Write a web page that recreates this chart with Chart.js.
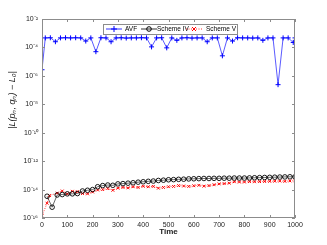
<!DOCTYPE html>
<html>
<head>
<meta charset="utf-8">
<script src="https://cdn.jsdelivr.net/npm/chart.js@4.4.1/dist/chart.umd.min.js"></script>
<style>
  html, body { margin: 0; padding: 0; background: #fff; }
  canvas { display: block; }
</style>
</head>
<body>
<canvas id="chart" width="327" height="245"></canvas>
<script>
// data (y values as log10)
const avfTime = [0, 13, 33, 53, 73, 93, 113, 133, 153, 173, 193, 213, 233, 253, 273, 293, 313, 333, 353, 373,
    393, 413, 433, 453, 473, 493, 513, 533, 553, 573, 593, 613, 633, 653, 673, 693, 713, 733, 753, 773,
    793, 813, 833, 853, 873, 893, 913, 933, 953, 973, 993, 1000];
const avfLog = [-5.57, -3.33, -3.32, -3.6, -3.33, -3.32, -3.33, -3.32, -3.33, -3.55, -3.33, -4.3, -3.32, -3.33, -3.6, -3.33, -3.32, -3.34, -3.33, -3.33,
    -3.32, -3.33, -3.96, -3.33, -3.32, -4.03, -3.33, -3.5, -3.33, -3.32, -3.34, -3.33, -3.33, -3.6, -3.33, -3.33, -4.59, -3.33, -3.55, -3.32,
    -3.33, -3.33, -3.34, -3.33, -3.5, -3.33, -3.33, -6.62, -3.33, -3.33, -3.65, -3.33];

const schemeTime = [20, 40, 60, 80, 100, 120, 140, 160, 180, 200, 220, 240, 260, 280, 300, 320, 340, 360, 380, 400,
    420, 440, 460, 480, 500, 520, 540, 560, 580, 600, 620, 640, 660, 680, 700, 720, 740, 760, 780, 800,
    820, 840, 860, 880, 900, 920, 940, 960, 980, 1000];
const scheme4Log = [-14.47, -15.24, -14.38, -14.35, -14.3, -14.3, -14.28, -14.1, -14.05, -14.0, -13.8, -13.72, -13.68, -13.7, -13.6, -13.58, -13.55, -13.52, -13.48, -13.45,
    -13.42, -13.4, -13.36, -13.34, -13.31, -13.3, -13.28, -13.27, -13.25, -13.24, -13.23, -13.22, -13.22, -13.21, -13.21, -13.2, -13.2, -13.19, -13.19, -13.19,
    -13.18, -13.17, -13.16, -13.15, -13.14, -13.13, -13.12, -13.11, -13.1, -13.1];

const scheme5Time = [0, 20, 30, 60, 80, 100, 120, 140, 160, 180, 200, 220, 240, 260, 280, 300, 320, 340, 360, 380, 400,
    420, 440, 460, 480, 500, 520, 540, 560, 580, 600, 620, 640, 660, 680, 700, 720, 740, 760, 780, 800,
    820, 840, 860, 880, 900, 920, 940, 960, 980, 1000];
const scheme5Log = [-15.85, -14.96, -14.42, -14.25, -14.1, -14.3, -14.12, -14.15, -14.28, -14.3, -14.17, -14.03, -14.0, -13.93, -14.05, -13.9, -13.85, -13.88, -13.8, -13.85, -13.77,
    -13.8, -13.78, -13.9, -13.85, -13.8, -13.78, -13.72, -13.75, -13.78, -13.73, -13.7, -13.76, -13.72, -13.66, -13.6, -13.58, -13.55, -13.45, -13.47, -13.47,
    -13.44, -13.45, -13.44, -13.43, -13.42, -13.41, -13.4, -13.42, -13.39, -13.38];

const yTicks = [-16, -14, -12, -10, -8, -6, -4, -2];
const seriesNames = ["AVF", "Scheme IV", "Scheme V"];

const toPoints = (xs, logs) => xs.map((t, i) => ({ x: t, y: Math.pow(10, logs[i]) }));
const sup = { "-": "\u207B", "0": "\u2070", "1": "\u00B9", "2": "\u00B2", "3": "\u00B3", "4": "\u2074",
    "5": "\u2075", "6": "\u2076", "7": "\u2077", "8": "\u2078", "9": "\u2079" };
const superscript = (n) => String(n).split("").map(c => sup[c]).join("");

const FONT = "'Liberation Sans', Arial, sans-serif";

// frame, inward ticks, y label and a MATLAB style legend
const framePlugin = {
    id: "frame",
    afterDraw(chart) {
        const { ctx, chartArea: a, scales } = chart;
        ctx.save();
        ctx.strokeStyle = "#8c8c8c";
        ctx.lineWidth = 1;
        ctx.strokeRect(a.left + 0.5, a.top + 0.5, a.right - a.left - 1, a.bottom - a.top - 1);
        ctx.beginPath();
        for (let v = 0; v <= 1000; v += 100) {
            const px = Math.round(scales.x.getPixelForValue(v)) + 0.5;
            ctx.moveTo(px, a.bottom); ctx.lineTo(px, a.bottom - 3);
            ctx.moveTo(px, a.top); ctx.lineTo(px, a.top + 3);
        }
        yTicks.forEach(e => {
            const py = Math.round(scales.y.getPixelForValue(Math.pow(10, e))) + 0.5;
            ctx.moveTo(a.left, py); ctx.lineTo(a.left + 3, py);
            ctx.moveTo(a.right, py); ctx.lineTo(a.right - 3, py);
        });
        ctx.stroke();

        // y axis label
        ctx.fillStyle = "#222";
        ctx.font = "italic 9px " + FONT;
        ctx.translate(12, 100);
        ctx.rotate(-Math.PI / 2);
        ctx.textAlign = "center";
        ctx.textBaseline = "middle";
        ctx.fillText("|L(p\u2099, q\u2099) \u2212 L\u2080|", 0, 0);
        ctx.restore();

        // legend
        ctx.save();
        const lx = 103, ly = 24, lw = 134, lh = 10, my = ly + lh / 2;
        ctx.fillStyle = "#fff";
        ctx.fillRect(lx, ly, lw, lh);
        ctx.strokeStyle = "#8c8c8c";
        ctx.strokeRect(lx + 0.5, ly + 0.5, lw, lh);
        ctx.font = "6.5px " + FONT;
        ctx.textBaseline = "middle";
        ctx.fillStyle = "#000";
        const items = [
            { x: 106, tx: 125, color: "#0000ff", dash: [], mark: "plus" },
            { x: 141, tx: 157, color: "#000", dash: [], mark: "circle" },
            { x: 186, tx: 206, color: "#ff0000", dash: [1, 1.5], mark: "cross" }
        ];
        items.forEach((it, i) => {
            ctx.strokeStyle = it.color;
            ctx.lineWidth = 0.8;
            ctx.setLineDash(it.dash);
            ctx.beginPath();
            ctx.moveTo(it.x, my); ctx.lineTo(it.x + 16, my);
            ctx.stroke();
            ctx.setLineDash([]);
            const cx = it.x + 8;
            ctx.beginPath();
            if (it.mark === "plus") {
                ctx.moveTo(cx - 3, my); ctx.lineTo(cx + 3, my);
                ctx.moveTo(cx, my - 3); ctx.lineTo(cx, my + 3);
            } else if (it.mark === "circle") {
                ctx.arc(cx, my, 2.3, 0, Math.PI * 2);
            } else {
                ctx.moveTo(cx - 2, my - 2); ctx.lineTo(cx + 2, my + 2);
                ctx.moveTo(cx - 2, my + 2); ctx.lineTo(cx + 2, my - 2);
            }
            ctx.lineWidth = 1;
            ctx.stroke();
            ctx.fillStyle = "#000";
            ctx.fillText(seriesNames[i], it.tx, my + 0.5);
        });
        ctx.restore();
    }
};

const ctx = document.getElementById("chart").getContext("2d");

new Chart(ctx, {
    type: "line",
    data: {
        datasets: [{
            label: seriesNames[0],
            data: toPoints(avfTime, avfLog),
            borderColor: "#3030ff",
            borderWidth: 0.8,
            pointStyle: "cross",
            pointRadius: 2.5,
            pointBorderColor: "#0000ff",
            pointBorderWidth: 1,
            tension: 0
        }, {
            label: seriesNames[1],
            data: toPoints(schemeTime, scheme4Log),
            borderColor: "#000",
            borderWidth: 0.6,
            pointStyle: "circle",
            pointRadius: 2.3,
            pointBackgroundColor: "rgba(0,0,0,0)",
            pointBorderColor: "#000",
            pointBorderWidth: 0.9,
            tension: 0
        }, {
            label: seriesNames[2],
            data: toPoints(scheme5Time, scheme5Log),
            borderColor: "#ff0000",
            borderWidth: 0.8,
            borderDash: [1, 1.5],
            pointStyle: "crossRot",
            pointRadius: 2,
            pointBorderColor: "#ff0000",
            pointBorderWidth: 1,
            tension: 0
        }]
    },
    options: {
        responsive: false,
        animation: false,
        devicePixelRatio: 1,
        layout: { padding: { left: 0, right: 32, top: 19, bottom: 8 } },
        plugins: { legend: { display: false }, tooltip: { enabled: false } },
        scales: {
            x: {
                type: "linear",
                min: 0,
                max: 1000,
                grid: { display: false, drawTicks: false, tickLength: 0 },
                border: { display: false },
                ticks: { stepSize: 100, padding: 3, color: "#222", font: { size: 7, family: FONT }, maxRotation: 0,
                    callback: (v) => String(v) },
                title: { display: true, text: "Time", color: "#222", padding: 0, font: { size: 8, weight: "bold", family: FONT } },
                afterFit(scale) { scale.height = 19; }
            },
            y: {
                type: "logarithmic",
                min: 1e-16,
                max: 1e-2,
                grid: { display: false, drawTicks: false, tickLength: 0 },
                border: { display: false },
                afterBuildTicks(scale) { scale.ticks = yTicks.map(e => ({ value: Math.pow(10, e) })); },
                ticks: {
                    padding: 4,
                    color: "#222",
                    font: { size: 7, family: FONT },
                    callback: (v) => "10" + superscript(Math.round(Math.log10(v)))
                },
                afterFit(scale) { scale.width = 42; }
            }
        }
    },
    plugins: [framePlugin]
});
</script>
</body>
</html>
